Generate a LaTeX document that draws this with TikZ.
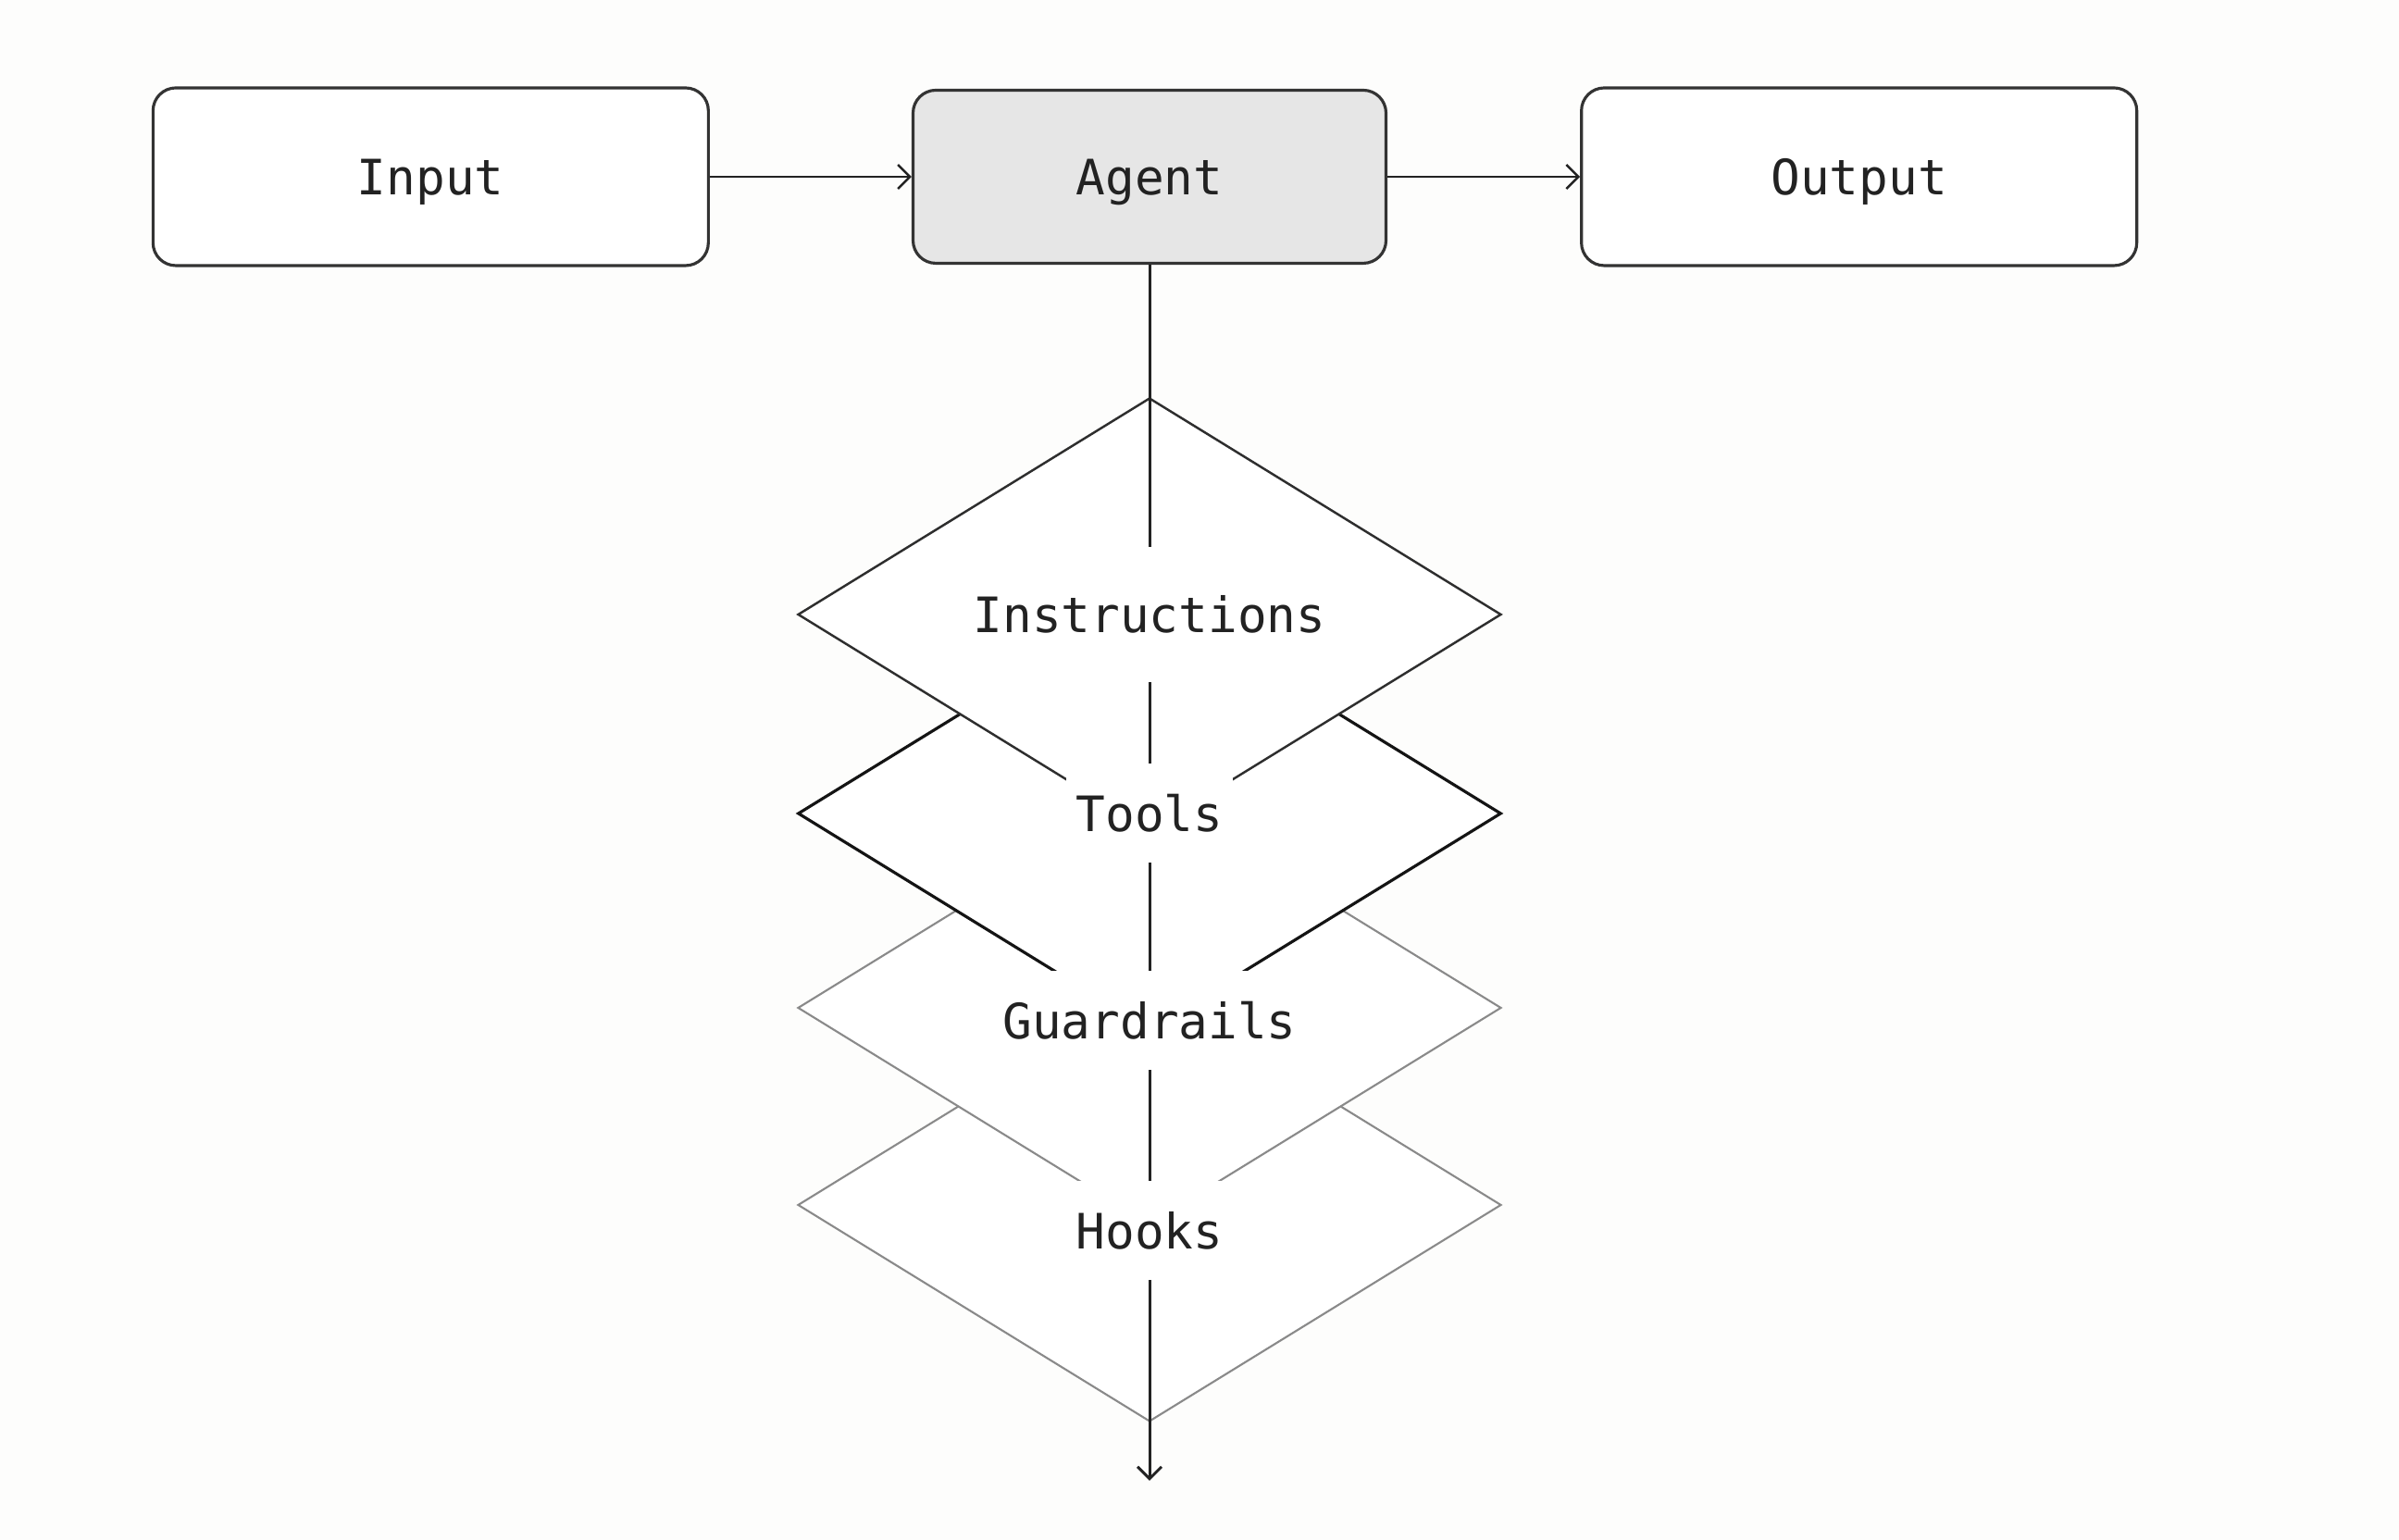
\documentclass[tikz,border=0pt]{standalone}
\usepackage{fontspec}
\setmonofont{DejaVu Sans Mono}
\usetikzlibrary{arrows.meta, positioning, shapes.geometric}
\definecolor{paper}{HTML}{FDFDFC}
\definecolor{ink}{HTML}{222222}
\definecolor{boxEdge}{HTML}{333333}
\definecolor{agentGray}{HTML}{E6E6E6}
\definecolor{edgeDark}{HTML}{2E2E2E}
\definecolor{edgeBlack}{HTML}{141414}
\definecolor{edgeGray}{HTML}{8A8A8A}
\tikzset{
  arrowK/.style={-{Straight Barb[length=1.3mm, width=2.6mm]}, ink, line width=0.7pt},
  boxIO/.style={rectangle, rounded corners=7pt, draw=boxEdge, fill=white, line width=0.9pt,
                minimum width=6cm, minimum height=1.92cm, text=ink, text depth=0pt,
                font=\ttfamily\fontsize{15}{18}\selectfont},
  boxAgent/.style={boxIO, fill=agentGray, minimum width=5.11cm, minimum height=1.87cm},
  layer/.style={diamond, fill=white, minimum width=7.6cm, minimum height=4.68cm, inner sep=0pt},
  layerText/.style={fill=white, inner xsep=3pt, inner ysep=0pt, minimum height=1.07cm,
                    text=ink, font=\ttfamily\fontsize{15}{18}\selectfont},
}
\begin{document}
\begin{tikzpicture}[node distance=2.13cm]
    \fill[paper] (0,0) rectangle (25.92,16.64);
    \useasboundingbox (0,0) rectangle (25.92,16.64);

    % top row
    \node[boxAgent] (ag) at (12.42,14.73) {Agent};
    \node[boxIO, left=2.18cm of ag] (in) {Input};
    \node[boxIO, right=2.08cm of ag] (out) {Output};
    \draw[arrowK] (in)--(ag); \draw[arrowK] (ag)--(out);

    % stacked layers, back to front
    \node[layer, draw=edgeGray, line width=0.6pt] (dHooks) at (12.42,3.62) {};
    \node[layer, draw=edgeGray, line width=0.6pt] (dGuard) at (12.42,5.75) {};
    \node[layer, draw=edgeBlack, line width=0.9pt] (dTools) at (12.42,7.85) {};
    \node[layer, draw=edgeDark, line width=0.7pt] (dIns) at (12.42,10.00) {};

    \coordinate (end) at (12.42,0.64);
    \draw[arrowK, line width=0.85pt] (ag.south)--(end);

    \node[layerText, minimum height=1.46cm] (lIns) at (dIns) {Instructions};
    \node[layerText] (lTools) at (dTools) {Tools};
    \node[layerText] (lGuard) at (12.42,5.61) {Guardrails};
    \node[layerText] (lHooks) at (12.42,3.34) {Hooks};
\end{tikzpicture}
\end{document}
